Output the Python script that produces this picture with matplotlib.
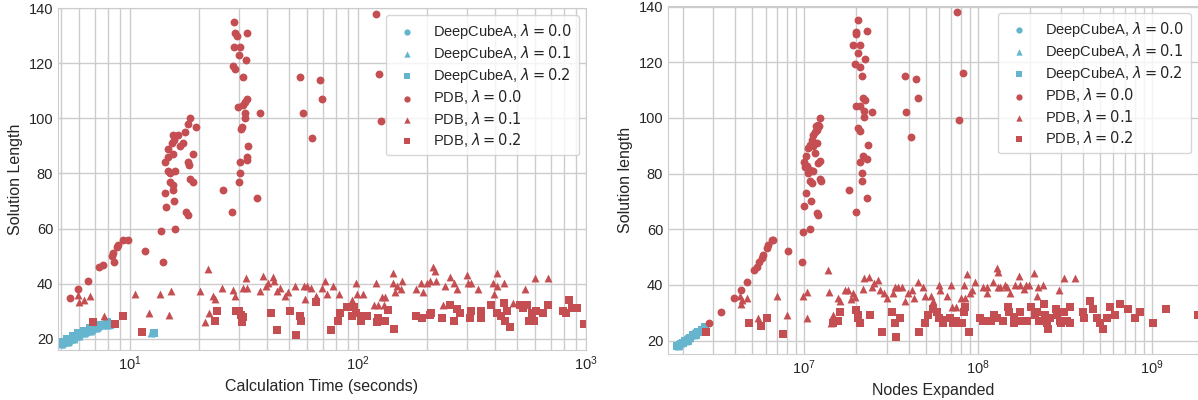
import matplotlib
matplotlib.use("Agg")
import matplotlib.pyplot as plt
import seaborn as sns

sns.set_style("whitegrid")
plt.rcParams['font.family'] = ['Liberation Sans', 'DejaVu Sans']

RED = "#c44e52"
CYAN = "#64b5cd"

# ---- left panel: calculation time (seconds) ----
dca0_time = [5.0, 5.1, 5.25, 5.4, 5.55, 5.7, 5.85, 6.0, 6.2, 6.4, 6.6, 6.8, 7.0, 7.25, 7.5, 7.8, 8.1, 12.6]
dca0_len_t = [18, 18, 19, 19, 20, 20, 21, 21, 22, 22, 23, 23, 24, 24, 25, 25, 25, 22]
dca1_time = [5.05, 5.2, 5.35, 5.5, 5.65, 5.8, 5.95, 6.1, 6.3, 6.5, 6.7, 6.9, 7.1, 7.4, 7.7, 8.0, 12.4]
dca1_len_t = [18, 19, 19, 20, 20, 21, 21, 22, 22, 23, 23, 24, 24, 25, 25, 25, 22]
dca2_time = [5.0, 5.15, 5.3, 5.45, 5.6, 5.75, 5.9, 6.05, 6.25, 6.45, 6.65, 6.85, 7.05, 7.3, 7.6, 7.9, 8.2, 12.8]
dca2_len_t = [19, 19, 20, 20, 21, 21, 22, 22, 23, 23, 24, 24, 25, 25, 25, 26, 25, 22]

pdb0_time = [5.46, 5.89, 6.56, 7.30, 7.64, 8.31, 8.45, 8.5, 8.79, 8.85, 9.35, 9.83, 11.6, 14.0, 13.7,
             15.8, 14.4, 14.2, 15.6, 15.5, 15.5, 15.0, 14.2, 14.7, 15.5, 14.7, 15.2, 15.6, 15.5, 16.2,
             16.6, 17.1, 17.4, 17.9, 18.4, 19.5, 18.8, 18.0, 18.1, 18.3, 18.9, 17.6, 17.9, 14.7, 15.8,
             15.0, 28.7, 29.0, 29.5, 32.7, 28.7, 30.3, 30.1, 32.2, 28.4, 29.0, 31.3, 32.7, 32.0, 29.9,
             31.4, 31.8, 31.8, 30.6, 31.0, 37.0, 32.9, 32.7, 32.5, 30.4, 30.3, 30.2, 28.1, 25.5, 36.2,
             55.7, 68.0, 69.3, 57.6, 63.0, 120, 124, 126]
pdb0_len_t = [35, 38, 41, 46, 47, 50, 51, 48, 53.5, 54, 56, 56, 52, 48, 59,
              60, 68, 73, 70, 74, 76, 77, 84, 86, 87, 89, 91, 92, 94, 94,
              90, 91, 95, 98, 100, 97, 87, 84, 83, 78, 77, 66, 65, 81, 81,
              80, 135, 131, 130, 131, 126, 126, 123, 121, 119, 118, 115, 107, 106, 104,
              105, 102, 100, 96, 97, 102, 90, 86, 85, 84, 80, 77, 66, 74, 71,
              115, 114, 107, 102, 93, 138, 116, 99]

pdb1_time = [5.9, 6.0, 6.3, 6.7, 7.7, 10.5, 12.1, 13.6, 14.8, 15.1, 20.3, 21.3, 21.9, 22.3, 23.0,
             23.7, 25.2, 28.4, 29.0, 31.2, 32.5, 32.2, 37.2, 38.2, 39.3, 40.4, 42.2, 42.6, 44.0, 45.4,
             47.7, 49.1, 52.8, 58.5, 58.0, 60.0, 62.4, 65.7, 69.7, 71.6, 72.9, 77.8, 82.9, 93.7, 98.0,
             99.3, 105.5, 117.5, 120, 122.7, 128, 130, 131, 142, 143, 145, 148, 155, 156, 179.5,
             188, 193, 200, 207, 214, 218, 220, 235, 241, 252, 264, 271, 300, 305, 312,
             335, 392, 406, 408, 395, 438, 480, 540, 597, 683]
pdb1_len_t = [36, 33.5, 34, 35.4, 28.3, 36.3, 29.3, 36.3, 28.7, 37.4, 37.3, 26.3, 45.3, 29.3, 35.4,
              34.4, 38.3, 37.8, 35.4, 38.3, 38.3, 42.2, 37.4, 43, 39.2, 40.2, 42.4, 41, 37.4, 38.3,
              35.4, 37, 39.2, 34.4, 39.2, 39.2, 38.3, 35.4, 38.3, 41, 36.3, 39.2, 36.3, 34.1, 40.2,
              36.3, 36.3, 32.3, 40.2, 32.3, 35.3, 32.3, 35.3, 40.2, 44, 37.2, 39.2, 38.1, 41.1, 38.1,
              40.2, 37.2, 40.2, 41.1, 46.2, 44.5, 41.1, 32.3, 39.2, 42.4, 40.2, 38.1, 43.2, 40.2, 40.2,
              38.1, 40.2, 44, 39.2, 36.3, 40.2, 33.2, 38.1, 42.2, 42.2]

pdb2_time = [6.86, 8.6, 9.35, 11.3, 24.0, 23.6, 29.3, 30.2, 30.6, 31.4, 31.0, 41.7, 44.3, 50.2, 53.2,
             55.5, 56.2, 65.4, 76, 81.3, 83.6, 89.6, 93.7, 96, 98, 102.7, 105.5, 109.8, 121, 122.7,
             122.7, 131, 136, 144, 179.5, 190, 207, 210, 233, 253, 264, 271, 279, 310, 312,
             346, 346, 382, 406, 423, 437, 441, 452, 464, 514, 528, 550, 565, 578, 592,
             604, 650, 680, 796, 817, 842, 865, 910, 983]
pdb2_len_t = [26.3, 25.4, 28.3, 22.4, 30.3, 26.6, 30.3, 30, 28.7, 28.1, 26.3, 29.3, 23.3, 30.3, 21.5,
              28.3, 26.5, 33.3, 23.3, 26.5, 29.3, 31.5, 28.3, 31.5, 29.3, 26.5, 28.4, 28.4, 26.3, 26.5,
              27.5, 26.5, 30.5, 23.5, 28.3, 27.5, 28.7, 29.3, 27.5, 32.3, 26.5, 30.8, 29.3, 27.5, 30.2,
              30.2, 27.5, 32.3, 29.3, 28.3, 33.2, 26.5, 30.2, 24.5, 32.3, 31.1, 32.3, 26.5, 29.3, 26.5,
              30.2, 29.3, 32.3, 30.2, 29.3, 34.1, 31.1, 31.1, 25.4]

# ---- right panel: nodes expanded ----
dca0_nodes = [1.85e6, 1.92e6, 1.99e6, 2.06e6, 2.13e6, 2.2e6, 2.28e6, 2.36e6, 2.45e6, 2.55e6, 2.65e6]
dca0_len_n = [18, 19, 19, 20, 21, 21, 22, 23, 23, 24, 25]
dca1_nodes = [1.88e6, 1.95e6, 2.02e6, 2.1e6, 2.17e6, 2.24e6, 2.32e6, 2.4e6, 2.5e6, 2.6e6, 2.7e6]
dca1_len_n = [18, 19, 20, 20, 21, 22, 22, 23, 24, 24, 25]
dca2_nodes = [1.86e6, 1.9e6, 2.0e6, 2.08e6, 2.15e6, 2.22e6, 2.3e6, 2.38e6, 2.47e6, 2.58e6, 2.68e6]
dca2_len_n = [18, 18, 19, 20, 20, 21, 22, 22, 23, 24, 25]

pdb0_nodes = [2.84e6, 3.35e6, 3.96e6, 4.33e6, 4.68e6, 5.16e6, 5.35e6, 5.54e6, 5.71e6, 5.84e6,
              6.10e6, 6.24e6, 6.52e6, 6.66e6, 8.09e6, 9.78e6, 9.9e6, 1.08e7, 1.0e7, 1.03e7,
              1.10e7, 1.08e7, 1.11e7, 1.06e7, 1.01e7, 1.0e7, 1.03e7, 1.06e7, 1.08e7, 1.11e7,
              1.13e7, 1.16e7, 1.18e7, 1.17e7, 1.21e7, 1.24e7, 1.22e7, 1.18e7, 1.16e7, 1.13e7,
              1.21e7, 1.24e7, 1.24e7, 1.25e7, 1.19e7, 1.20e7, 1.08e7, 1.12e7, 1.04e7,
              2.03e7, 1.99e7, 2.0e7, 2.29e7, 1.92e7, 2.10e7, 2.05e7, 2.24e7, 1.96e7, 2.09e7,
              2.14e7, 2.19e7, 2.24e7, 2.0e7, 2.10e7, 2.21e7, 2.22e7, 2.45e7, 2.03e7, 2.09e7,
              2.34e7, 2.10e7, 2.19e7, 2.29e7, 2.14e7, 2.14e7, 2.29e7, 1.99e7, 1.81e7, 3.82e7,
              4.40e7, 4.54e7, 3.85e7, 4.10e7, 7.60e7, 8.16e7, 7.78e7]
pdb0_len_n = [26.2, 30.2, 35.2, 38.2, 41.2, 45.4, 46.6, 48.4, 49.6, 50.8,
              53.2, 54.2, 56.2, 56.2, 52.3, 48.2, 59.2, 60, 68.2, 73.2,
              70.2, 77.2, 76.6, 80.2, 82.2, 84.1, 86.2, 89.2, 90.4, 92.2,
              94.0, 94.8, 95.5, 97.2, 97.6, 100, 97, 91, 87.4, 89.8,
              83.8, 84.4, 78, 77.2, 65.8, 65.2, 81.4, 80.8, 82.6,
              135.1, 130.9, 130, 131.2, 126.1, 126.1, 123.4, 121.2, 119.2, 118.3,
              115.2, 107.2, 106.3, 104.2, 104.4, 102.4, 100.3, 102.1, 96.4, 95.4,
              90.1, 84.1, 86.2, 85.2, 80.2, 77.2, 71.2, 66.2, 74.2, 115.2,
              114.1, 107.2, 102.1, 93.3, 138.1, 116.2, 99.1]

pdb1_nodes = [4.29e6, 4.38e6, 4.33e6, 4.68e6, 5.42e6, 6.97e6, 7.94e6, 9.9e6, 1.04e7, 1.04e7,
              1.37e7, 1.39e7, 1.42e7, 1.47e7, 1.56e7, 1.61e7, 1.72e7, 1.80e7, 1.87e7, 1.92e7,
              1.96e7, 2.19e7, 2.21e7, 2.37e7, 2.45e7, 2.52e7, 2.67e7, 2.73e7, 2.89e7, 3.01e7,
              3.26e7, 3.33e7, 3.45e7, 3.64e7, 3.80e7, 3.98e7, 4.17e7, 4.28e7, 4.54e7, 4.81e7,
              4.96e7, 5.37e7, 5.53e7, 6.0e7, 6.06e7, 6.67e7, 6.97e7, 7.06e7, 7.48e7, 7.99e7,
              8.32e7, 8.61e7, 8.4e7, 9.0e7, 9.2e7, 9.6e7, 1.07e8, 1.12e8, 1.12e8, 1.22e8,
              1.28e8, 1.31e8, 1.31e8, 1.34e8, 1.43e8, 1.47e8, 1.53e8, 1.64e8, 1.73e8, 1.75e8,
              1.84e8, 1.88e8, 1.97e8, 2.1e8, 2.19e8, 2.2e8, 2.36e8, 2.91e8, 3.12e8, 3.61e8]
pdb1_len_n = [36.2, 34.6, 33.2, 35.2, 28.0, 36.2, 29.2, 36.2, 37.3, 28.3,
              45.2, 37.3, 26.2, 29.2, 35.2, 34.3, 38.2, 38.2, 35.0, 37,
              35.8, 38.5, 42.4, 43, 39.4, 40.6, 41.8, 38.2, 37.1, 35.2,
              37.1, 39.2, 39.2, 39.2, 34.3, 37.1, 38.2, 35.2, 41.2, 39.2,
              36.2, 36.2, 34.3, 40.0, 38.2, 36.2, 40.0, 32.2, 32.2, 35.2,
              40.0, 44.0, 35.2, 37.1, 38.2, 41.2, 39.4, 39.2, 37.1, 41.2,
              46.0, 44.8, 39.4, 39.2, 40.0, 39.2, 37.1, 40.0, 43.3, 40.0,
              38.5, 40.0, 40.0, 44.2, 36.2, 39.4, 40.0, 38.2, 42.4, 42.4]

pdb2_nodes = [2.74e6, 4.83e6, 5.66e6, 6.15e6, 7.6e6, 1.47e7, 1.56e7, 1.60e7, 1.99e7, 2.03e7,
              2.05e7, 2.10e7, 2.39e7, 2.79e7, 3.19e7, 3.33e7, 3.38e7, 3.56e7, 4.60e7, 4.96e7,
              5.19e7, 5.53e7, 5.78e7, 6.0e7, 6.31e7, 6.31e7, 6.90e7, 7.22e7, 7.52e7, 7.78e7,
              8.05e7, 8.35e7, 8.4e7, 8.91e7, 1.03e8, 1.07e8, 1.12e8, 1.19e8, 1.23e8, 1.28e8,
              1.40e8, 1.48e8, 1.51e8, 1.60e8, 1.60e8, 1.71e8, 1.75e8, 1.84e8, 1.92e8, 2.02e8,
              2.13e8, 2.19e8, 2.25e8, 2.39e8, 2.42e8, 2.48e8, 2.53e8, 2.59e8, 2.81e8, 2.85e8,
              2.96e8, 3.0e8, 3.12e8, 3.24e8, 3.38e8, 3.38e8, 4.0e8, 4.08e8, 4.40e8, 4.60e8,
              4.81e8, 5.02e8, 5.25e8, 5.49e8, 5.74e8, 6.13e8, 6.55e8, 7.31e8, 7.98e8, 8.53e8,
              1.02e9, 1.20e9, 1.84e9]
pdb2_len_n = [23.2, 26.2, 25.3, 28.3, 22.3, 26.2, 27.2, 30.2, 31, 29.2,
              28, 26.2, 29.2, 23.2, 30.2, 26.2, 21.2, 28.3, 23.2, 26.2,
              29.2, 31.3, 30.2, 28.3, 27.4, 26.2, 28.3, 26.2, 27.2, 26.2,
              26.2, 30.2, 32.2, 23.2, 28.3, 27.2, 27.2, 27.2, 29.2, 28.3,
              27.2, 32.2, 30.2, 28.6, 26.2, 27.2, 30.2, 27.2, 27.2, 32.2,
              29.2, 30.2, 27.2, 33.2, 29.2, 26.2, 24.2, 28.3, 31.3, 29.2,
              27.2, 26.2, 30.2, 27.2, 32.2, 26.2, 30.2, 28.3, 34.3, 31.3,
              28.3, 26.2, 24.2, 28.3, 32.2, 29.2, 33.2, 31.3, 28.3, 30.2,
              26.2, 31.3, 29.2]

labels = [r"DeepCubeA, $\lambda = 0.0$", r"DeepCubeA, $\lambda = 0.1$", r"DeepCubeA, $\lambda = 0.2$",
          r"PDB, $\lambda = 0.0$", r"PDB, $\lambda = 0.1$", r"PDB, $\lambda = 0.2$"]
markers = ["o", "^", "s", "o", "^", "s"]
colors = [CYAN, CYAN, CYAN, RED, RED, RED]

fig = plt.figure(figsize=(11.98, 4), dpi=100)
ax1 = fig.add_axes([58/1198, 50/400, 528/1198, 342/400])
ax2 = fig.add_axes([668/1198, 46/400, 530/1198, 348/400])

left_series = [(dca0_time, dca0_len_t), (dca1_time, dca1_len_t), (dca2_time, dca2_len_t),
               (pdb0_time, pdb0_len_t), (pdb1_time, pdb1_len_t), (pdb2_time, pdb2_len_t)]
right_series = [(dca0_nodes, dca0_len_n), (dca1_nodes, dca1_len_n), (dca2_nodes, dca2_len_n),
                (pdb0_nodes, pdb0_len_n), (pdb1_nodes, pdb1_len_n), (pdb2_nodes, pdb2_len_n)]

for ax, series in [(ax1, left_series), (ax2, right_series)]:
    for (xs, ys), lab, m, c in zip(series, labels, markers, colors):
        ax.scatter(xs, ys, s=32, marker=m, color=c, linewidths=0, label=lab)
    ax.set_xscale("log")
    ax.grid(True, which="major", color=".8", lw=1)
    ax.grid(True, which="minor", color=".8", lw=1)
    ax.set_yticks([20, 40, 60, 80, 100, 120, 140])
    ax.tick_params(axis="both", which="both", length=0, labelsize=10.5, colors=".15")
    for sp in ax.spines.values():
        sp.set_color(".8")
    ax.legend(loc="upper right", fontsize=10.5, markerscale=0.8, frameon=True,
              edgecolor=".8", borderpad=0.45, labelspacing=0.22)

ax1.set_xlim(4.83, 1000)
ax1.set_ylim(16, 140)
ax1.set_xlabel("Calculation Time (seconds)", fontsize=11.5, color=".15")
ax1.set_ylabel("Solution Length", fontsize=11.5, color=".15")

ax2.set_xlim(1.65e6, 1.84e9)
ax2.set_ylim(15.2, 140.2)
ax2.set_xlabel("Nodes Expanded", fontsize=11.5, color=".15")
ax2.set_ylabel("Solution length", fontsize=11.5, color=".15")

fig.savefig("out.png", dpi=100)
